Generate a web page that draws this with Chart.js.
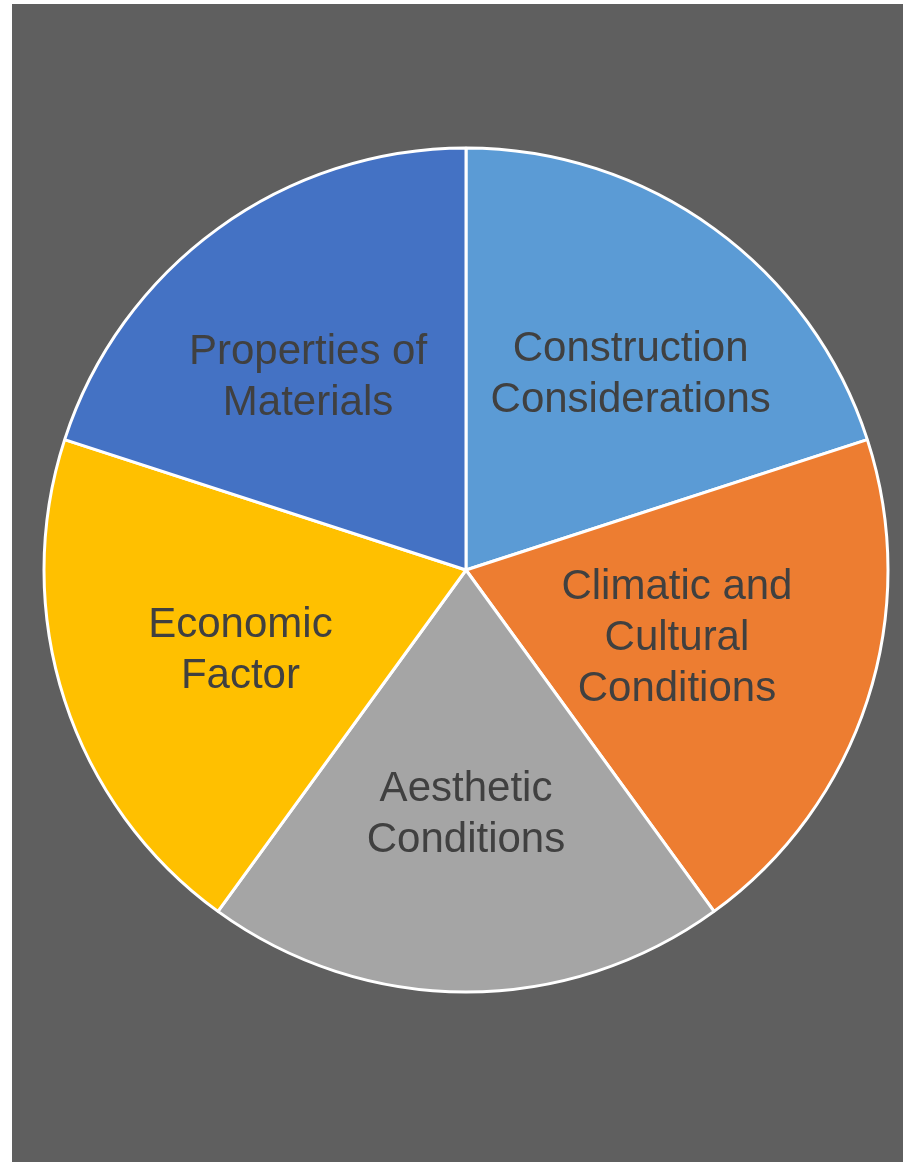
<!DOCTYPE html>
<html>
<head>
<meta charset="utf-8">
<script src="https://cdn.jsdelivr.net/npm/chart.js@4"></script>
<style>
  html, body { margin: 0; padding: 0; background: #ffffff; }
  .frame { position: absolute; left: 12px; top: 4px; width: 891px; height: 1158px; background: #5f5f5f; }
</style>
</head>
<body>
<div class="frame"><canvas id="pie"></canvas></div>
<script>
// Five equal factors, clockwise from the top
const labels = [
  ['Construction', 'Considerations'],
  ['Climatic and', 'Cultural', 'Conditions'],
  ['Aesthetic', 'Conditions'],
  ['Economic', 'Factor'],
  ['Properties of', 'Materials'],
]
const values = [20, 20, 20, 20, 20]
const colors = ['#5b9bd5', '#ed7d31', '#a5a5a5', '#ffc000', '#4472c4']

// label placement, like Excel's best fit: fraction of radius + small turn (deg)
const labelDist = [0.62, 0.52, 0.562, 0.562, 0.604]
const labelTurn = [3, -2, 0, 0, -2.3]

const sliceLabels = {
  id: 'sliceLabels',
  afterDatasetsDraw(chart) {
    const { ctx } = chart
    const meta = chart.getDatasetMeta(0)
    ctx.save()
    ctx.fillStyle = '#404040'
    ctx.font = '42px "Liberation Sans", Arial, sans-serif'
    ctx.textAlign = 'center'
    ctx.textBaseline = 'middle'
    const lh = 51
    meta.data.forEach((arc, i) => {
      const p = arc.getProps(['x', 'y', 'startAngle', 'endAngle', 'outerRadius'], true)
      const mid = (p.startAngle + p.endAngle) / 2 + labelTurn[i] * Math.PI / 180
      const r = p.outerRadius * labelDist[i]
      const cx = p.x + Math.cos(mid) * r
      const cy = p.y + Math.sin(mid) * r + 8
      const lines = labels[i]
      lines.forEach((t, j) => {
        ctx.fillText(t, cx, cy + (j - (lines.length - 1) / 2) * lh)
      })
    })
    ctx.restore()
  },
}

new Chart(document.getElementById('pie'), {
  type: 'pie',
  data: {
    labels: labels.map(l => l.join(' ')),
    datasets: [{
      data: values,
      backgroundColor: colors,
      borderColor: '#ffffff',
      borderWidth: 3,
    }],
  },
  options: {
    responsive: true,
    maintainAspectRatio: false,
    animation: false,
    radius: 422,
    layout: { padding: { left: 17, right: 0, top: 0, bottom: 26 } },
    plugins: { legend: { display: false }, tooltip: { enabled: false } },
  },
  plugins: [sliceLabels],
})
</script>
</body>
</html>
